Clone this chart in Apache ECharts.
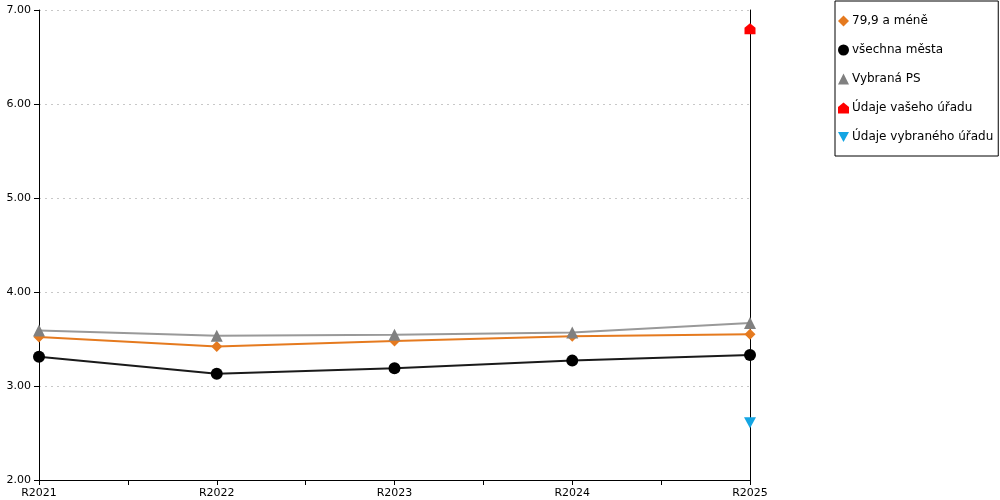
<!DOCTYPE html>
<html>
<head>
<meta charset="utf-8">
<script src="https://cdn.jsdelivr.net/npm/echarts@6/dist/echarts.min.js"></script>
<style>
  html, body { margin: 0; padding: 0; background: #fff; }
  #chart { width: 1000px; height: 500px; }
</style>
</head>
<body>
<div id="chart"></div>
<script>
// data
const years = ['R2021', 'R2022', 'R2023', 'R2024', 'R2025'];
const small = [3.52, 3.42, 3.48, 3.53, 3.55];      // 79,9 a méně
const allCities = [3.31, 3.13, 3.19, 3.27, 3.33];  // všechna města
const selectedPS = [3.59, 3.535, 3.545, 3.57, 3.67]; // Vybraná PS
const yourOffice = [null, null, null, null, 6.80];
const selectedOffice = [null, null, null, null, 2.61];
const names = ['79,9 a méně', 'všechna města', 'Vybraná PS', 'Údaje vašeho úřadu', 'Údaje vybraného úřadu'];

const font = 'DejaVu Sans';
const house = 'path://M0,4 L5,0 L10,4 L10,10 L0,10 Z';
const downTri = 'path://M0,0 L10,0 L5,9 Z';
const icons = ['diamond', 'circle', 'triangle', house, downTri];

const chart = echarts.init(document.getElementById('chart'));
chart.setOption({
  animation: false,
  textStyle: {fontFamily: font},
  grid: {left: 39, right: 250, top: 10, bottom: 20, containLabel: false},
  legend: {
    orient: 'vertical',
    left: 835,
    top: 1,
    width: 160,
    padding: [14, 5, 13, 3],
    itemGap: 17,
    itemWidth: 11,
    itemHeight: 11,
    borderColor: '#000',
    borderWidth: 1,
    textStyle: {fontFamily: font, fontSize: 12, color: '#000', padding: [0, 0, 0, -2]},
    data: names.map((n, i) => ({name: n, icon: icons[i]}))
  },
  xAxis: [
    {
      type: 'category',
      data: years,
      boundaryGap: false,
      axisLine: {lineStyle: {color: '#000', width: 1}},
      axisTick: {show: true, length: 5, lineStyle: {color: '#000'}},
      axisLabel: {fontFamily: font, fontSize: 11, color: '#000', margin: 8},
      splitLine: {show: false}
    },
    {
      type: 'value',
      min: 0,
      max: 4,
      interval: 0.5,
      position: 'bottom',
      axisLine: {show: false},
      axisTick: {show: true, length: 5, lineStyle: {color: '#000'}},
      axisLabel: {show: false},
      splitLine: {show: false}
    }
  ],
  yAxis: [
    {
      type: 'value',
      min: 2,
      max: 7,
      interval: 1,
      axisLine: {show: true, lineStyle: {color: '#000'}},
      axisTick: {show: true, length: 5, lineStyle: {color: '#000'}},
      axisLabel: {fontFamily: font, fontSize: 11, color: '#000', margin: 8, formatter: v => v.toFixed(2)},
      splitLine: {show: true, lineStyle: {color: '#c8c8c8', type: [2, 4], width: 1}}
    },
    {
      type: 'value',
      min: 2,
      max: 7,
      interval: 1,
      position: 'right',
      axisLine: {show: true, lineStyle: {color: '#000'}},
      axisTick: {show: false},
      axisLabel: {show: false},
      splitLine: {show: false}
    }
  ],
  series: [
    {
      name: names[0], type: 'line', data: small,
      symbol: icons[0], symbolSize: 11,
      itemStyle: {color: '#e57a1f'},
      lineStyle: {color: '#e57a1f', width: 2}
    },
    {
      name: names[1], type: 'line', data: allCities,
      symbol: icons[1], symbolSize: 12,
      itemStyle: {color: '#000'},
      lineStyle: {color: '#1a1a1a', width: 2}
    },
    {
      name: names[2], type: 'line', data: selectedPS,
      symbol: icons[2], symbolSize: 12,
      itemStyle: {color: '#808080'},
      lineStyle: {color: '#999', width: 2}
    },
    {
      name: names[3], type: 'line', data: yourOffice,
      symbol: icons[3], symbolSize: 11,
      itemStyle: {color: '#ff0000'},
      lineStyle: {width: 0}
    },
    {
      name: names[4], type: 'line', data: selectedOffice,
      symbol: icons[4], symbolSize: [12, 11],
      itemStyle: {color: '#14a5e3'},
      lineStyle: {width: 0}
    }
  ]
});
</script>
</body>
</html>
